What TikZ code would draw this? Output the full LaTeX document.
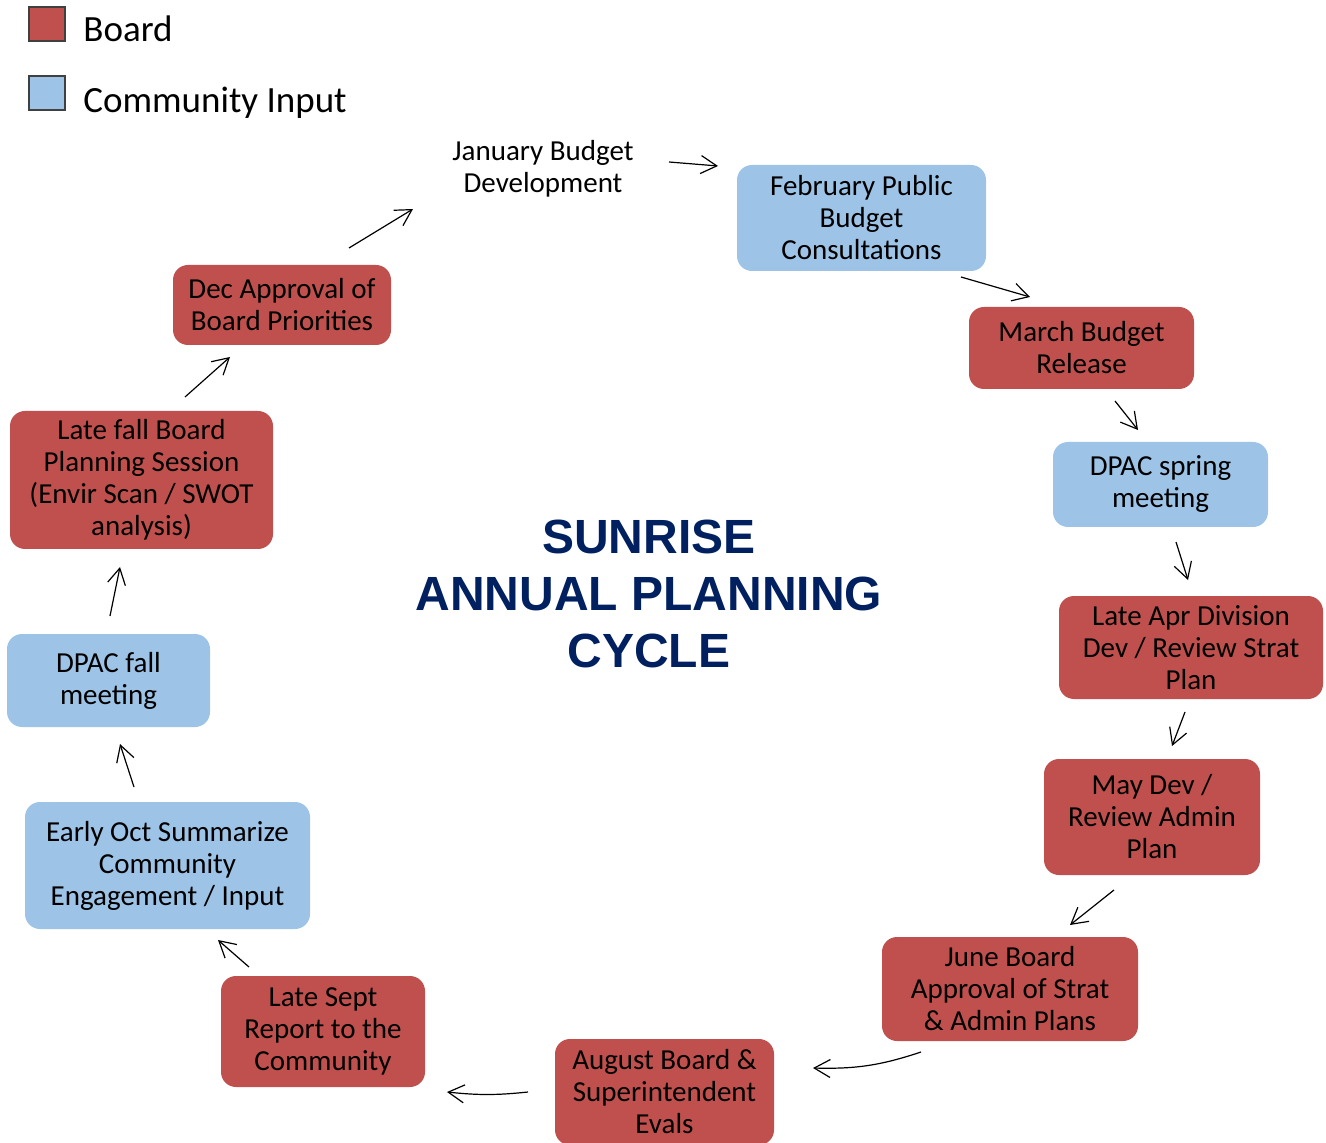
\documentclass[tikz,border=0pt]{standalone}
\usepackage{fontspec}
\setmainfont{Carlito}
\newfontfamily\titlefont{Liberation Sans}
\usetikzlibrary{arrows.meta, calc}

\definecolor{boardred}{HTML}{C0504D}
\definecolor{inputblue}{HTML}{9DC3E6}
\definecolor{titlenavy}{HTML}{002060}

\begin{document}
\begin{tikzpicture}[
  x=0.5pt, y=-0.5pt,
  box/.style={rounded corners=7.5pt, align=center, inner sep=2pt,
    font=\fontsize{14.5}{16}\selectfont},
  board/.style={box, fill=boardred},
  input/.style={box, fill=inputblue},
  key/.style={draw=black!75, line width=0.6pt, minimum width=18pt, minimum height=17pt, inner sep=0pt},
  keytext/.style={anchor=base west, inner sep=0pt, font=\fontsize{18.5}{22}\selectfont},
  arrow/.style={-{Straight Barb[length=8pt, width=9pt]}, line width=0.6pt},
]
  \useasboundingbox (0,0) rectangle (1326,1143);

  % legend
  \node[key, fill=boardred] (keyboard) at (47,24) {};
  \node[keytext] (keyboardtxt) at (83,42) {Board};
  \node[key, fill=inputblue] (keyinput) at (47,93) {};
  \node[keytext] (keyinputtxt) at (83,113) {Community Input};

  % title
  \node[align=center, text=titlenavy, font=\titlefont\bfseries\fontsize{24}{28.5}\selectfont] (title) at (649,594)
    {SUNRISE\\ANNUAL PLANNING\\CYCLE};

  % the cycle
  \node[box] (jan) at (543,169) {January Budget\\Development};
  \node[input, minimum width=124.5pt, minimum height=53pt] (feb) at (861.5,218) {February Public\\Budget\\Consultations};
  \node[board, minimum width=112.5pt, minimum height=41pt] (mar) at (1081.5,348) {March Budget\\Release};
  \node[input, minimum width=107.5pt, minimum height=42.5pt] (dpacspring) at (1160.5,484.5) {DPAC spring\\meeting};
  \node[board, minimum width=132pt, minimum height=51.5pt] (apr) at (1191,647.5) {Late Apr Division\\Dev / Review Strat\\Plan};
  \node[board, minimum width=108pt, minimum height=58pt] (may) at (1152,817) {May Dev /\\Review Admin\\Plan};
  \node[board, minimum width=128pt, minimum height=52pt] (june) at (1010,989) {June Board\\Approval of Strat\\\& Admin Plans};
  \node[board, minimum width=109.5pt, minimum height=53pt] (aug) at (664.5,1092) {August Board \&\\Superintendent\\Evals};
  \node[board, minimum width=102pt, minimum height=55.5pt] (sept) at (323,1031.5) {Late Sept\\Report to the\\Community};
  \node[input, minimum width=142.5pt, minimum height=63.5pt] (oct) at (167.5,865.5) {Early Oct Summarize\\Community\\Engagement / Input};
  \node[input, minimum width=101.5pt, minimum height=46.5pt] (dpacfall) at (108.5,680.5) {DPAC fall\\meeting};
  \node[board, minimum width=131.5pt, minimum height=69pt] (fall) at (141.5,480) {Late fall Board\\Planning Session\\(Envir Scan / SWOT\\analysis)};
  \node[board, minimum width=109pt, minimum height=40pt] (dec) at (282,305) {Dec Approval of\\Board Priorities};

  % arrows
  \draw[arrow] ($(jan)+(126,-7)$) -- ($(feb)+(-143.5,-52)$);
  \draw[arrow] ($(feb)+(99.5,59)$) -- ($(mar)+(-51.5,-51)$);
  \draw[arrow] ($(mar)+(33.5,53)$) -- ($(dpacspring)+(-22.5,-54.5)$);
  \draw[arrow] ($(dpacspring)+(15.5,57.5)$) -- ($(apr)+(-3,-67.5)$);
  \draw[arrow] ($(apr)+(-6,64.5)$) -- ($(may)+(20,-71)$);
  \draw[arrow] ($(may)+(-38,73)$) -- ($(june)+(60,-64)$);
  \draw[arrow] ($(june)+(-89,63)$) to[bend left=10] ($(aug)+(148.5,-24)$);
  \draw[arrow] ($(aug)+(-136.5,0)$) to[bend left=6] ($(sept)+(124,60.5)$);
  \draw[arrow] ($(sept)+(-74,-64.5)$) -- ($(oct)+(50.5,74.5)$);
  \draw[arrow] ($(oct)+(-33.5,-78.5)$) -- ($(dpacfall)+(11.5,63.5)$);
  \draw[arrow] ($(dpacfall)+(1.5,-64.5)$) -- ($(fall)+(-21.5,87)$);
  \draw[arrow] ($(fall)+(43.5,-83)$) -- ($(dec)+(-52,52)$);
  \draw[arrow] ($(dec)+(67,-57)$) -- ($(jan)+(-130,40)$);
\end{tikzpicture}
\end{document}
